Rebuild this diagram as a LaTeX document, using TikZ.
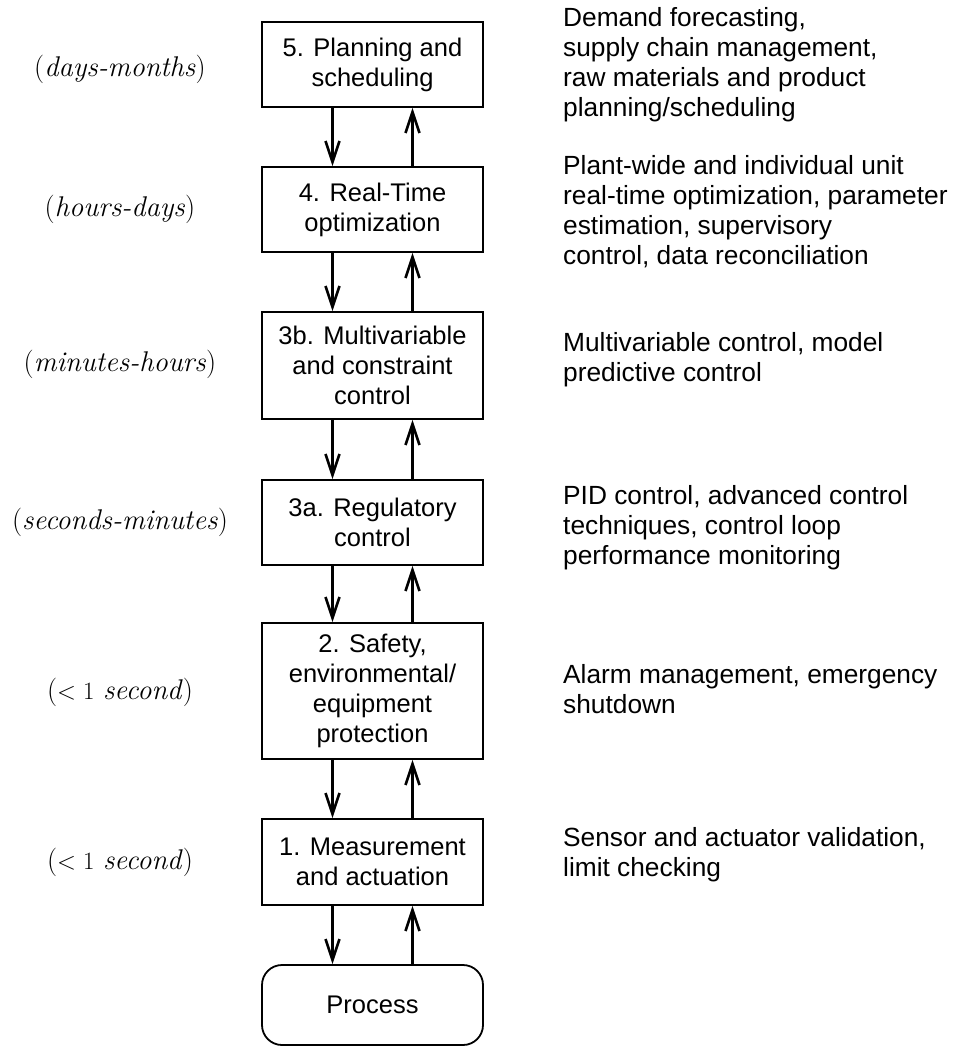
\documentclass[tikz,border=0pt]{standalone}
\usepackage{fontspec}
\newfontfamily\sansf{Liberation Sans}
\usetikzlibrary{arrows.meta}
\begin{document}
\begin{tikzpicture}[x=1pt,y=-1pt,
  level/.style={draw,line width=1.8pt,minimum width=221pt,inner sep=0pt,align=center,font=\sansf\fontsize{25.5}{30}\selectfont},
  desc/.style={anchor=west,align=left,inner sep=0pt,font=\sansf\fontsize{26.3}{30}\selectfont},
  timelbl/.style={inner sep=0pt,font=\fontsize{28.5}{30}\selectfont},
  flow/.style={line width=2.6pt,-{Straight Barb[length=21pt,width=14pt]}}]
\useasboundingbox[fill=white] (0,0) rectangle (956,1047);

% boxes
\node[level,minimum height=85pt]  (b5)  at (372.5,64.5)  {5. Planning and\\scheduling};
\node[level,minimum height=85pt]  (b4)  at (372.5,209.5) {4. Real-Time\\optimization};
\node[level,minimum height=107pt] (b3b) at (372.5,365.5) {3b. Multivariable\\and constraint\\control};
\node[level,minimum height=85pt]  (b3a) at (372.5,522.5) {3a. Regulatory\\control};
\node[level,minimum height=136pt] (b2)  at (372.5,691)   {2. Safety,\\environmental/\\equipment\\protection};
\node[level,minimum height=86pt]  (b1)  at (372.5,862)   {1. Measurement\\and actuation};
\node[level,minimum height=80pt,rounded corners=20pt] (proc) at (372.5,1005) {Process};

% connectors
\foreach \u/\l in {b5/b4,b4/b3b,b3b/b3a,b3a/b2,b2/b1,b1/proc}{
  \draw[flow] ([xshift=-40pt]\u.south) -- ([xshift=-40pt]\l.north);
  \draw[flow] ([xshift=40pt]\l.north) -- ([xshift=40pt]\u.south);
}

% time scales
\node[timelbl] (t5)  at (120,69)  {(\textit{days-months})};
\node[timelbl] (t4)  at (120,209) {(\textit{hours-days})};
\node[timelbl] (t3b) at (120,364) {(\textit{minutes-hours})};
\node[timelbl] (t3a) at (120,522) {(\textit{seconds-minutes})};
\node[timelbl] (t2)  at (120,692) {($<1$ \textit{second})};
\node[timelbl] (t1)  at (120,862) {($<1$ \textit{second})};

% descriptions
\node[desc] (d5)  at (563,65)  {Demand forecasting,\\supply chain management,\\raw materials and product\\planning/scheduling};
\node[desc] (d4)  at (563,212) {Plant-wide and individual unit\\real-time optimization, parameter\\estimation, supervisory\\control, data reconciliation};
\node[desc] (d3b) at (563,360) {Multivariable control, model\\predictive control};
\node[desc] (d3a) at (563,528) {PID control, advanced control\\techniques, control loop\\performance monitoring};
\node[desc] (d2)  at (563,689) {Alarm management, emergency\\shutdown};
\node[desc] (d1)  at (563,855) {Sensor and actuator validation,\\limit checking};
\end{tikzpicture}
\end{document}
